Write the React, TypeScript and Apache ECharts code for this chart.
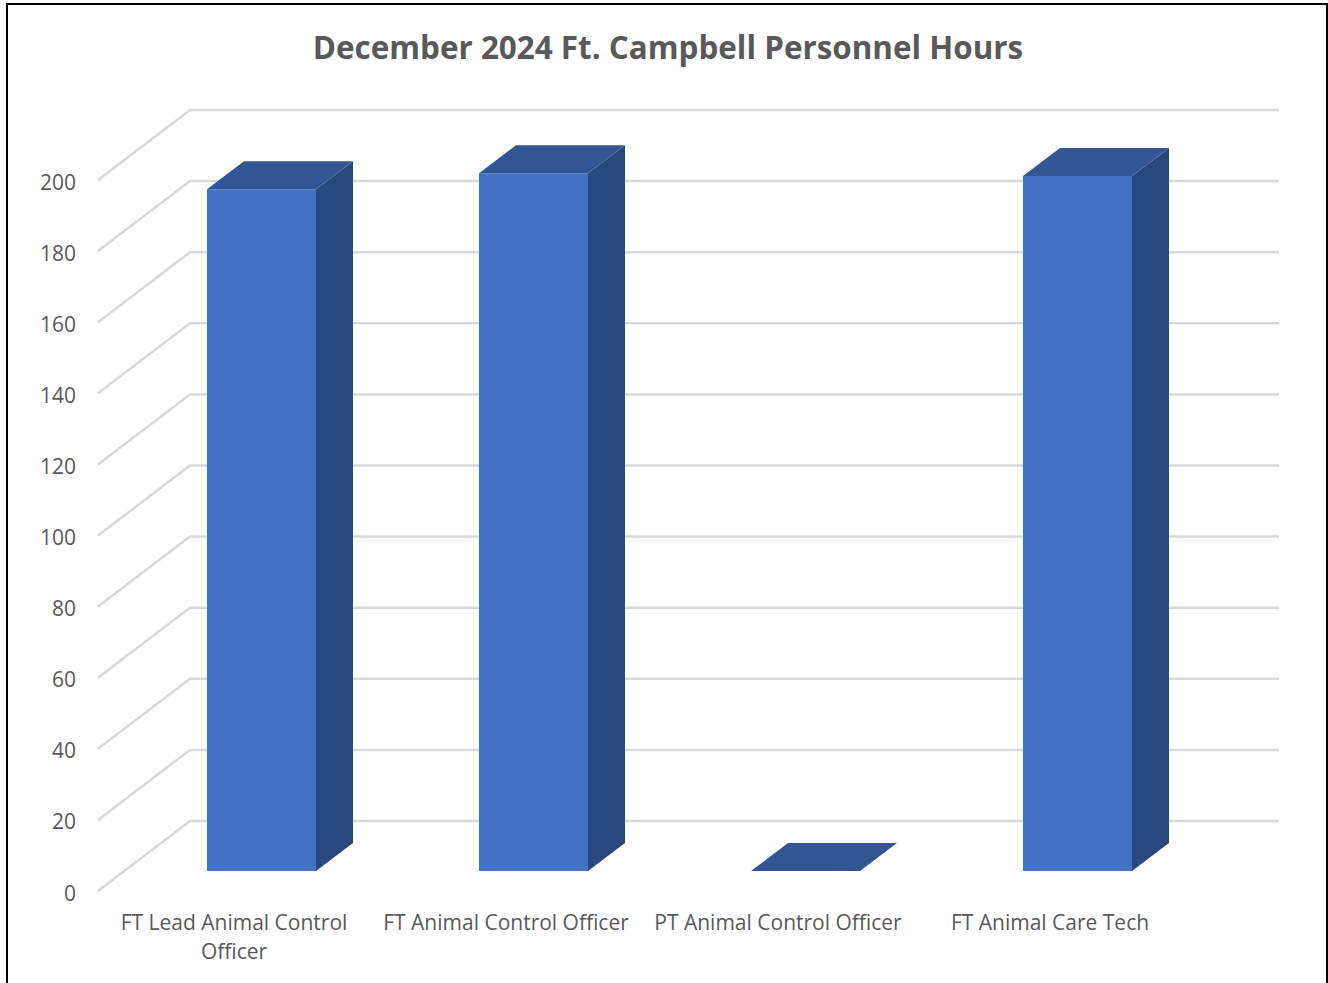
import React, { useEffect, useRef } from "react";
import * as echarts from "echarts";

const titleText = "December 2024 Ft. Campbell Personnel Hours";
const categories = [
  "FT Lead Animal Control\nOfficer",
  "FT Animal Control Officer",
  "PT Animal Control Officer",
  "FT Animal Care Tech",
];
const hours = [191.8, 196.3, 0, 195.5];
const yTicks = [0, 20, 40, 60, 80, 100, 120, 140, 160, 180, 200];

const FONT = "Open Sans";
const GRID_COLOR = "#D9D9D9";
const TEXT_COLOR = "#595959";
const FRONT = "#4472C4";
const SIDE = "#2A4880";
const TOP = "#335593";
const WALL_DX = 92;
const WALL_DY = -70;
const BAR_DX = 27.5;
const BAR_DY = -20;
const DEPTH_DX = 37;
const DEPTH_DY = -28;
const BAR_W = 109;

export default function App() {
  const ref = useRef<HTMLDivElement>(null);
  useEffect(() => {
    const chart = echarts.init(ref.current!, undefined, { renderer: "svg" });
    chart.setOption({
      animation: false,
      backgroundColor: "#ffffff",
      title: {
        text: titleText,
        left: 663,
        top: 26,
        textAlign: "center",
        textStyle: { fontFamily: FONT, fontSize: 31.4, fontWeight: "bold", color: TEXT_COLOR },
      },
      grid: { left: 98, top: 180, width: 1088, height: 711, containLabel: false },
      xAxis: {
        type: "category",
        data: categories,
        axisLine: { show: false },
        axisTick: { show: false },
        axisLabel: {
          interval: 0,
          margin: 16,
          fontFamily: FONT,
          fontSize: 21,
          lineHeight: 29,
          color: TEXT_COLOR,
        },
      },
      yAxis: {
        type: "value",
        min: 0,
        max: 200,
        interval: 20,
        splitLine: { show: false },
        axisLine: { show: false },
        axisTick: { show: false },
        axisLabel: {
          margin: 22,
          formatter: "{n|{value}}",
          rich: {
            n: { padding: [3, 0, 0, 0], fontFamily: FONT, fontSize: 21, color: TEXT_COLOR },
          },
        },
      },
      graphic: [
        {
          type: "polyline",
          silent: true,
          shape: { points: [[7, 983], [7, 4], [1327, 4], [1327, 983]] },
          style: { stroke: "#000000", lineWidth: 2, fill: "none" },
        },
      ],
      series: [
        {
          type: "custom",
          silent: true,
          z: 1,
          data: yTicks.map((v) => [0, v]),
          renderItem: (params: any, api: any) => {
            const y = api.coord([0, api.value(1)])[1];
            const x0 = params.coordSys.x;
            const x1 = x0 + params.coordSys.width;
            const style = { stroke: GRID_COLOR, lineWidth: 2.5, fill: "none" };
            return {
              type: "polyline",
              shape: {
                points: [
                  [x0, y],
                  [x0 + WALL_DX, y + WALL_DY],
                  [x1 + WALL_DX + 1, y + WALL_DY],
                ],
              },
              style,
            };
          },
        },
        {
          type: "custom",
          silent: true,
          z: 2,
          data: hours.map((v, i) => [i, v]),
          renderItem: (_params: any, api: any) => {
            const top = api.coord([api.value(0), api.value(1)]);
            const base = api.coord([api.value(0), 0]);
            const l = top[0] + BAR_DX - BAR_W / 2;
            const r = l + BAR_W;
            const t = top[1] + BAR_DY;
            const b = base[1] + BAR_DY;
            const children: any[] = [];
            if (b - t > 0.5) {
              children.push({
                type: "polygon",
                shape: { points: [[r, t], [r + DEPTH_DX, t + DEPTH_DY], [r + DEPTH_DX, b + DEPTH_DY], [r, b]] },
                style: { fill: SIDE },
              });
              children.push({
                type: "rect",
                shape: { x: l, y: t, width: BAR_W, height: b - t },
                style: { fill: FRONT },
              });
            }
            children.push({
              type: "polygon",
              shape: { points: [[l, t], [l + DEPTH_DX, t + DEPTH_DY], [r + DEPTH_DX, t + DEPTH_DY], [r, t]] },
              style: { fill: TOP },
            });
            return { type: "group", children };
          },
        },
      ],
    });
    return () => chart.dispose();
  }, []);
  return (
    <div
      ref={ref}
      style={{ position: "absolute", left: 0, top: 0, width: 1328, height: 983 }}
    />
  );
}
